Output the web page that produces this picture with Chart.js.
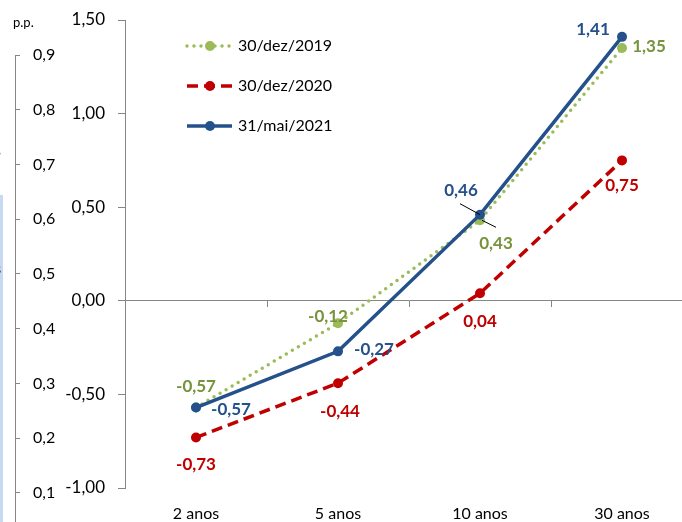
<!DOCTYPE html>
<html>
<head>
<meta charset="utf-8">
<script src="https://cdn.jsdelivr.net/npm/chart.js@4.4.1/dist/chart.umd.min.js"></script>
<style>
  html, body { margin: 0; padding: 0; width: 682px; height: 522px; overflow: hidden; background: #fff; font-family: Lato, sans-serif; }
  #main, #side { position: absolute; left: 0; top: 0; }
  #pp { position: absolute; left: 13px; top: 14px; font-size: 13px; color: #000; }
  #strip { position: absolute; left: 0; top: 195px; width: 3px; height: 327px; background: #c6d9f1; }
  .frag { position: absolute; left: -6px; font-size: 16px; color: #000; }
</style>
</head>
<body>
<canvas id="main" width="700" height="522"></canvas>
<canvas id="side" width="70" height="560"></canvas>
<div id="pp">p.p.</div>
<div id="strip"></div>
<div class="frag" style="top:140px">s</div>
<div class="frag" style="top:258px;font-weight:bold">s</div>
<script>
// values
const categories = ['2 anos', '5 anos', '10 anos', '30 anos'];
const seriesNames = ['30/dez/2019', '30/dez/2020', '31/mai/2021'];
const dez2019 = [-0.57, -0.12, 0.43, 1.35];
const dez2020 = [-0.73, -0.44, 0.04, 0.75];
const mai2021 = [-0.57, -0.27, 0.46, 1.41];
const yTicks = [-1, -0.5, 0, 0.5, 1, 1.5];
const sideTicks = [0.1, 0.2, 0.3, 0.4, 0.5, 0.6, 0.7, 0.8, 0.9];

const FONT = 'Lato, sans-serif';
const fmt2 = v => v.toFixed(2).replace('.', ',');
const fmt1 = v => v.toFixed(1).replace('.', ',');

// data labels next to each point
const pointLabels = {
    id: 'pointLabels',
    afterDatasetsDraw(chart) {
        const ctx = chart.ctx;
        ctx.save();
        ctx.font = 'bold 17px ' + FONT;
        ctx.textAlign = 'center';
        ctx.textBaseline = 'middle';
        chart.data.datasets.forEach((ds, i) => {
            const meta = chart.getDatasetMeta(i);
            meta.data.forEach((pt, j) => {
                const lead = ds.leaders && ds.leaders[j];
                if (lead) {
                    ctx.strokeStyle = '#000';
                    ctx.lineWidth = 1;
                    ctx.beginPath();
                    ctx.moveTo(pt.x + lead[0], pt.y + lead[1]);
                    ctx.lineTo(pt.x + lead[2], pt.y + lead[3]);
                    ctx.stroke();
                }
                const off = ds.labelOffsets[j];
                ctx.fillStyle = ds.labelColor;
                ctx.fillText(fmt2(ds.data[j]), pt.x + off[0], pt.y + off[1]);
            });
        });
        ctx.restore();
    }
};

// legend drawn inside the plot area
const innerLegend = {
    id: 'innerLegend',
    afterDraw(chart) {
        const ctx = chart.ctx;
        const rows = [46, 86, 126];
        ctx.save();
        chart.data.datasets.forEach((ds, i) => {
            const y = rows[i];
            ctx.strokeStyle = ds.borderColor;
            ctx.lineWidth = ds.borderWidth;
            ctx.lineCap = ds.borderCapStyle || 'butt';
            ctx.setLineDash(ds.borderDash || []);
            ctx.beginPath();
            ctx.moveTo(187, y);
            ctx.lineTo(232, y);
            ctx.stroke();
            ctx.setLineDash([]);
            ctx.fillStyle = ds.borderColor;
            ctx.beginPath();
            ctx.arc(210, y, 5, 0, Math.PI * 2);
            ctx.fill();
            ctx.fillStyle = '#000';
            ctx.font = '16px ' + FONT;
            ctx.textAlign = 'left';
            ctx.textBaseline = 'middle';
            ctx.fillText(ds.label, 238, y);
        });
        ctx.restore();
    }
};

// tick padding would otherwise push the plot area down
const trimPadding = s => { s.paddingTop = 10; s.paddingBottom = 10; };

new Chart(document.getElementById('main'), {
    type: 'line',
    data: {
        labels: categories,
        datasets: [
            {
                label: seriesNames[0],
                data: dez2019,
                order: 3,
                borderColor: '#9bbb59',
                backgroundColor: '#9bbb59',
                borderWidth: 3.5,
                borderDash: [0, 7],
                borderCapStyle: 'round',
                pointRadius: 5,
                pointBorderWidth: 0,
                labelColor: '#77933c',
                labelOffsets: [[0, -21], [-10, -7], [16, 23], [27, -2]],
                leaders: [null, null, [2, 0, 16, 7], null]
            },
            {
                label: seriesNames[1],
                data: dez2020,
                order: 2,
                borderColor: '#c00000',
                backgroundColor: '#c00000',
                borderWidth: 3.5,
                borderDash: [11, 6],
                pointRadius: 5,
                pointBorderWidth: 0,
                labelColor: '#c00000',
                labelOffsets: [[0, 27], [2, 28], [0, 28], [0, 25]]
            },
            {
                label: seriesNames[2],
                data: mai2021,
                order: 1,
                borderColor: '#24508c',
                backgroundColor: '#24508c',
                borderWidth: 3.5,
                pointRadius: 5,
                pointBorderWidth: 0,
                labelColor: '#24508c',
                labelOffsets: [[35, 2], [36, -2], [-19, -24], [-29, -7]],
                leaders: [null, null, [-20, -11, 0, 0], null]
            }
        ]
    },
    options: {
        responsive: false,
        animation: false,
        layout: { padding: { left: 65, top: 20, right: 7, bottom: 0 } },
        plugins: { legend: { display: false }, tooltip: { enabled: false } },
        elements: { line: { tension: 0 } },
        scales: {
            x: {
                offset: true,
                grid: { display: false },
                border: { display: false },
                ticks: { color: '#000', font: { family: FONT, size: 16 }, padding: 8 },
                afterFit: s => { s.height = 34; }
            },
            xz: {
                type: 'category',
                position: { y: 0 },
                offset: true,
                grid: { offset: true, drawOnChartArea: false, tickLength: 6, color: '#868686' },
                border: { color: '#868686', width: 1 },
                ticks: { display: false }
            },
            y: {
                min: -1,
                max: 1.5,
                afterBuildTicks: s => { s.ticks = yTicks.map(v => ({ value: v })); },
                grid: { drawOnChartArea: false, tickLength: 7, color: '#868686' },
                border: { color: '#868686', width: 1 },
                ticks: { color: '#000', font: { family: FONT, size: 17 }, padding: 13, callback: v => fmt2(v) },
                afterFit: s => { s.width = 60; trimPadding(s); }
            }
        }
    },
    plugins: [pointLabels, innerLegend]
});

// clipped axis of the neighbouring chart on the left
new Chart(document.getElementById('side'), {
    type: 'line',
    data: { labels: [], datasets: [] },
    options: {
        responsive: false,
        animation: false,
        layout: { padding: { left: 0, top: 55, right: 0, bottom: 0 } },
        plugins: { legend: { display: false }, tooltip: { enabled: false } },
        scales: {
            x: { display: false },
            y: {
                position: 'right',
                min: 0.9 - 480 / 545,
                max: 0.9,
                afterBuildTicks: s => { s.ticks = sideTicks.map(v => ({ value: v })); },
                grid: { drawOnChartArea: false, tickLength: 5, color: '#868686' },
                border: { color: '#868686', width: 1 },
                ticks: { color: '#000', font: { family: FONT, size: 16 }, padding: 13, callback: v => fmt1(v) },
                afterFit: s => { s.width = 55; s.paddingTop = 10; s.paddingBottom = 23; }
            }
        }
    }
});
</script>
</body>
</html>
